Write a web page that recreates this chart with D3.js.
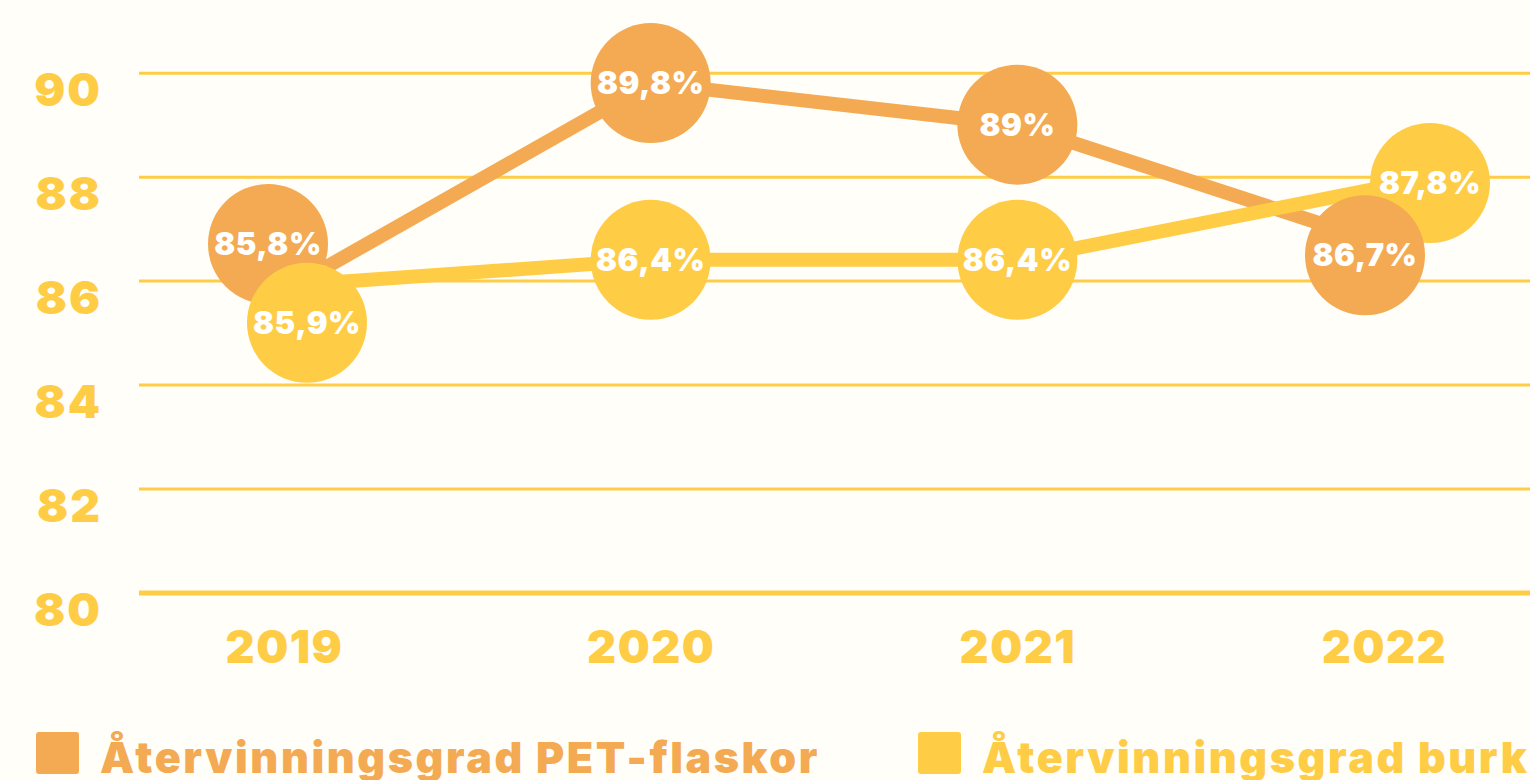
<!DOCTYPE html>
<html>
<head>
<meta charset="utf-8">
<script src="https://cdn.jsdelivr.net/npm/d3@7/dist/d3.min.js"></script>
<style>
  html, body { margin: 0; padding: 0; background: #FFFEF8; }
  svg { display: block; }
  text { font-family: Inter, "Noto Sans", sans-serif; font-weight: 900; }
</style>
</head>
<body>
<svg id="chart" width="1530" height="780"></svg>
<script>
// ---- data ----
const years = ["2019", "2020", "2021", "2022"];
const petValues = [85.8, 89.8, 89.0, 86.7];
const burkValues = [85.9, 86.4, 86.4, 87.8];
const petLabels = ["85,8%", "89,8%", "89%", "86,7%"];
const burkLabels = ["85,9%", "86,4%", "86,4%", "87,8%"];
const yTicks = [80, 82, 84, 86, 88, 90];
const seriesNames = ["Återvinningsgrad PET-flaskor", "Återvinningsgrad burk"];

// ---- styling / layout ----
const W = 1530, H = 780;
const ORANGE = "#F3AA52", YELLOW = "#FFCC46";
const R = 60;
// label-circle dodge (pixels) where circles of the two series collide
const dodge = {
  pet:  { 0: [-16, -47], 3: [-19, 11] },
  burk: { 0: [23, 37],   3: [46, -4] }
};

const svg = d3.select("#chart");
svg.append("rect").attr("width", W).attr("height", H).attr("fill", "#FFFEF8");

const x = d3.scalePoint().domain(years).range([284, 1384]);
const y = d3.scaleLinear().domain([80, 90]).range([592.5, 72.7]);

// y axis with gridlines
const yAxis = d3.axisLeft(y).tickValues(yTicks).tickFormat(d3.format("d"))
  .tickSizeInner(-(W - 139)).tickSizeOuter(0).tickPadding(37);
const gy = svg.append("g").attr("transform", "translate(139,0)").call(yAxis);
gy.select(".domain").remove();
gy.selectAll(".tick line").attr("stroke", YELLOW)
  .attr("stroke-width", d => d === 80 ? 5 : 3);
gy.selectAll(".tick text").attr("fill", YELLOW).attr("font-size", 46)
  .attr("letter-spacing", 2)
  .attr("dy", 0).attr("y", 33);

// x axis
const xAxis = d3.axisBottom(x).tickSize(0).tickPadding(0);
const gx = svg.append("g").attr("transform", `translate(0,${y(80)})`).call(xAxis);
gx.select(".domain").remove();
gx.selectAll(".tick text").attr("fill", YELLOW).attr("font-size", 45)
  .attr("letter-spacing", 1.5)
  .attr("dy", 0).attr("y", 70);

// lines
const series = [
  { key: "pet", values: petValues, labels: petLabels, color: ORANGE },
  { key: "burk", values: burkValues, labels: burkLabels, color: YELLOW }
];
const line = d3.line().x(d => x(d.year)).y(d => y(d.value));
series.forEach(s => {
  const pts = years.map((yr, i) => ({ year: yr, value: s.values[i] }));
  svg.append("path").datum(pts).attr("d", line)
    .attr("fill", "none").attr("stroke", s.color).attr("stroke-width", 14)
    .attr("stroke-linejoin", "round");
});

// circles with labels; the lower circle is drawn on top
const nodes = [];
series.forEach(s => {
  years.forEach((yr, i) => {
    const off = (dodge[s.key][i]) || [0, 0];
    nodes.push({
      cx: x(yr) + off[0], cy: y(s.values[i]) + off[1],
      color: s.color, label: s.labels[i]
    });
  });
});
nodes.sort((a, b) => a.cy - b.cy);
const g = svg.append("g").selectAll("g").data(nodes).join("g")
  .attr("transform", d => `translate(${d.cx},${d.cy})`);
g.append("circle").attr("r", R).attr("fill", d => d.color);
g.append("text").text(d => d.label)
  .attr("text-anchor", "middle").attr("dy", "0.36em")
  .attr("fill", "#FFFFFF").attr("font-size", 31).attr("letter-spacing", 0.5);

// legend
const legendX = [36, 918];
series.forEach((s, i) => {
  svg.append("rect").attr("x", legendX[i]).attr("y", 732)
    .attr("width", 43).attr("height", 42).attr("rx", 3).attr("fill", s.color);
  svg.append("text").attr("x", legendX[i] + 64).attr("y", 773)
    .attr("fill", s.color).attr("font-size", 43).attr("letter-spacing", 2.6)
    .text(seriesNames[i]);
});
</script>
</body>
</html>
